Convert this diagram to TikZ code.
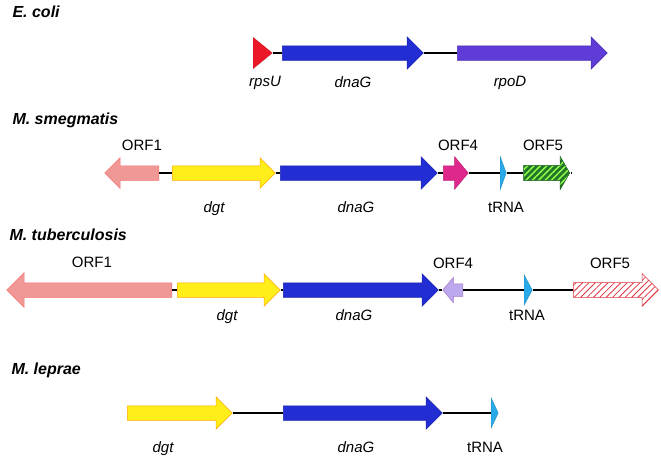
\documentclass[tikz,border=0pt]{standalone}
\usepackage{fontspec}
\setmainfont{Liberation Sans}
\usetikzlibrary{shapes.arrows,shapes.geometric,patterns.meta}

\definecolor{rpsred}{RGB}{235,25,40}
\definecolor{dnablue}{RGB}{35,45,212}
\definecolor{rpopurple}{RGB}{95,60,215}
\definecolor{orfsalmon}{RGB}{240,152,150}
\definecolor{dgtyellow}{RGB}{255,238,25}
\definecolor{orfmagenta}{RGB}{222,40,140}
\definecolor{trnacyan}{RGB}{40,170,232}
\definecolor{orfgreen}{RGB}{35,120,40}
\definecolor{orflavender}{RGB}{188,168,236}
\definecolor{orfred}{RGB}{222,50,62}

\begin{document}
\begin{tikzpicture}[x=1pt,y=-1pt,
      gene/.style={single arrow, inner sep=0pt, text height=7pt, text depth=7pt, single arrow head extend=9pt, single arrow tip angle=90, anchor=tail, line width=0.5pt},
      back/.style={gene, shape border rotate=180},
      tri/.style={isosceles triangle, isosceles triangle stretches, inner sep=0pt, anchor=west, line width=0.4pt},
      orf/.style={font=\fontsize{15}{18}\selectfont},
      gname/.style={font=\fontsize{15}{18}\selectfont\itshape},
      species/.style={font=\fontsize{16}{19}\selectfont\bfseries\itshape, anchor=west},
      chrom/.style={line width=1.4pt}]
\useasboundingbox (0,0) rectangle (661,458);

% E. coli
\node[species] (t1) at (9,12) {E. coli};
\node[tri, fill=rpsred, draw=rpsred!85!black, minimum height=19pt, minimum width=31pt] (ec1) at (253,53) {};
\node[gene, fill=dnablue, draw=dnablue!80!black, minimum height=141pt] (ec2) at (282,53) {};
\node[gene, fill=rpopurple, draw=rpopurple!80!black, minimum height=150pt] (ec3) at (457,53) {};
\draw[chrom] (ec1.apex) -- (ec2.tail);
\draw[chrom] (ec2.tip) -- (ec3.tail);
\node[gname] (lec1) at (265,83) {rpsU};
\node[gname] (lec2) at (353,82) {dnaG};
\node[gname] (lec3) at (510,83) {rpoD};

% M. smegmatis
\node[species] (t2) at (9,120) {M. smegmatis};
\node[back, fill=orfsalmon, draw=orfsalmon!75!red, minimum height=54pt, single arrow head extend=8pt] (ms1) at (159,173) {};
\node[gene, fill=dgtyellow, draw=orange!70!yellow, minimum height=103pt, single arrow head extend=8pt] (ms2) at (172,173) {};
\node[gene, fill=dnablue, draw=dnablue!80!black, minimum height=157pt] (ms3) at (280,173) {};
\node[gene, fill=orfmagenta, draw=orfmagenta!85!black, minimum height=25pt, single arrow tip angle=100] (ms4) at (443,173) {};
\node[tri, fill=trnacyan, draw=trnacyan!85!black, minimum height=6pt, minimum width=33pt] (ms5) at (500,173) {};
\node[gene, preaction={fill=orfgreen}, pattern={Lines[angle=45,distance=4.5pt,line width=1.4pt]}, pattern color=green!45!lime!70!white, draw=orfgreen!80!black, minimum height=46pt, single arrow tip angle=120] (ms6) at (523,173) {};
\coordinate (msend) at (572,173);
\draw[chrom] (ms1.tail) -- (ms2.tail);
\draw[chrom] (ms2.tip) -- (ms3.tail);
\draw[chrom] (ms3.tip) -- (ms4.tail);
\draw[chrom] (ms4.tip) -- (ms5.west);
\draw[chrom] (ms5.apex) -- (ms6.tail);
\draw[chrom] (ms6.tip) -- (msend);
\node[orf] (lms1) at (142,145) {ORF1};
\node[gname] (lms2) at (214,209) {dgt};
\node[gname] (lms3) at (356,207) {dnaG};
\node[orf] (lms4) at (458,145) {ORF4};
\node[orf] (lms5) at (506,207) {tRNA};
\node[orf] (lms6) at (543,145) {ORF5};

% M. tuberculosis
\node[species] (t3) at (6,235) {M. tuberculosis};
\node[back, fill=orfsalmon, draw=orfsalmon!75!red, minimum height=165pt, single arrow head extend=10pt] (mt1) at (172,290) {};
\node[gene, fill=dgtyellow, draw=orange!70!yellow, minimum height=103pt] (mt2) at (177,290) {};
\node[gene, fill=dnablue, draw=dnablue!80!black, minimum height=155pt] (mt3) at (283,290) {};
\node[back, fill=orflavender, draw=orflavender!70!violet, minimum height=20pt, text height=6pt, text depth=6pt, single arrow head extend=6.5pt, single arrow tip angle=100] (mt4) at (463,290) {};
\node[tri, fill=trnacyan, draw=trnacyan!85!black, minimum height=8pt, minimum width=30pt] (mt5) at (524,290) {};
\node[gene, fill=white, pattern={Lines[angle=45,distance=4.5pt,line width=0.8pt]}, pattern color=orfred, draw=orfred, minimum height=85pt] (mt6) at (573,290) {};
\draw[chrom] (mt1.tail) -- (mt2.tail);
\draw[chrom] (mt2.tip) -- (mt3.tail);
\draw[chrom] (mt3.tip) -- (mt4.tip);
\draw[chrom] (mt4.tail) -- (mt5.west);
\draw[chrom] (mt5.apex) -- (mt6.tail);
\node[orf] (lmt1) at (92,262) {ORF1};
\node[gname] (lmt2) at (227,317) {dgt};
\node[gname] (lmt3) at (354,315) {dnaG};
\node[orf] (lmt4) at (453,263) {ORF4};
\node[orf] (lmt5) at (527,315) {tRNA};
\node[orf] (lmt6) at (610,263) {ORF5};

% M. leprae
\node[species] (t4) at (8,370) {M. leprae};
\node[gene, fill=dgtyellow, draw=orange!70!yellow, minimum height=105pt] (ml1) at (127,413) {};
\node[gene, fill=dnablue, draw=dnablue!80!black, minimum height=159pt] (ml2) at (283,413) {};
\node[tri, fill=trnacyan, draw=trnacyan!85!black, minimum height=7pt, minimum width=30pt] (ml3) at (491,413) {};
\draw[chrom] (ml1.tip) -- (ml2.tail);
\draw[chrom] (ml2.tip) -- (ml3.west);
\node[gname] (lml1) at (163,449) {dgt};
\node[gname] (lml2) at (356,447) {dnaG};
\node[orf] (lml3) at (485,447) {tRNA};

\end{tikzpicture}
\end{document}
